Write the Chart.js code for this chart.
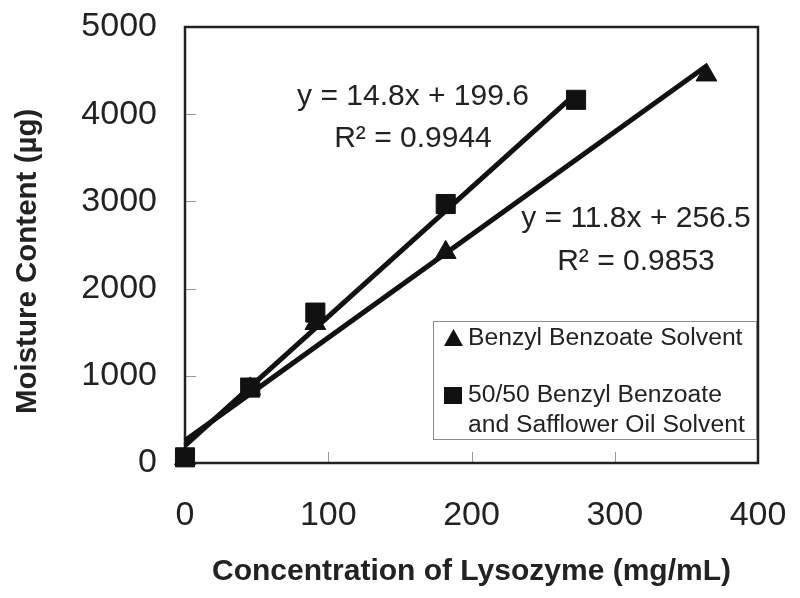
<!DOCTYPE html>
<html>
<head>
<meta charset="utf-8">
<script src="https://cdn.jsdelivr.net/npm/chart.js@4.4.1/dist/chart.umd.min.js"></script>
<style>
  html, body { margin: 0; padding: 0; background: #fff; }
  #wrap { width: 800px; height: 598px; position: relative; }
</style>
</head>
<body>
<div id="wrap"><canvas id="c" width="800" height="598"></canvas></div>
<script>
// ---- data ----
const seriesNames = ['Benzyl Benzoate Solvent', '50/50 Benzyl Benzoate', 'and Safflower Oil Solvent'];
const benzylX = [0, 45.5, 91, 182, 364];
const benzylY = [50, 850, 1600, 2415, 4450];
const blendX = [0, 45.5, 91, 182, 273];
const blendY = [65, 865, 1725, 2970, 4165];
// trendline end points (from the fitted equations shown on the chart)
const benzylTrendX = [0, 364];
const benzylTrendY = [256.5, 4551.7];
const blendTrendX = [0, 273];
const blendTrendY = [199.6, 4240];
const blendEq = ['y = 14.8x + 199.6', 'R\u00B2 = 0.9944'];
const benzylEq = ['y = 11.8x + 256.5', 'R\u00B2 = 0.9853'];
const xTicks = [0, 100, 200, 300, 400];
const yTicks = [0, 1000, 2000, 3000, 4000, 5000];
const xTitle = 'Concentration of Lysozyme (mg/mL)';
const yTitle = 'Moisture Content (\u00B5g)';

const FONT = "'Liberation Sans', Arial, Helvetica, sans-serif";
const INK = '#222';

const toPts = (xs, ys) => xs.map((x, i) => ({x: x, y: ys[i]}));

const decorPlugin = {
  id: 'decor',
  beforeDatasetsDraw(chart) {
    const ctx = chart.ctx, a = chart.chartArea;
    ctx.save();
    // inward tick marks
    ctx.strokeStyle = '#9a9a9a';
    ctx.lineWidth = 1;
    const xs = chart.scales.x, ys = chart.scales.y;
    xTicks.slice(1, -1).forEach(v => {
      const p = Math.round(xs.getPixelForValue(v)) + 0.5;
      ctx.beginPath(); ctx.moveTo(p, a.bottom); ctx.lineTo(p, a.bottom - 11); ctx.stroke();
    });
    yTicks.slice(1, -1).forEach(v => {
      const p = Math.round(ys.getPixelForValue(v)) + 0.5;
      ctx.beginPath(); ctx.moveTo(a.left, p); ctx.lineTo(a.left + 11, p); ctx.stroke();
    });
    // plot-area frame
    ctx.strokeStyle = INK;
    ctx.lineWidth = 2.5;
    ctx.strokeRect(a.left, a.top, a.right - a.left, a.bottom - a.top);
    ctx.restore();
  },
  afterDraw(chart) {
    const ctx = chart.ctx;
    ctx.save();
    // equations
    ctx.fillStyle = INK;
    ctx.font = '30px ' + FONT;
    ctx.textAlign = 'center';
    ctx.textBaseline = 'middle';
    ctx.fillText(blendEq[0], 413, 97);
    ctx.fillText(blendEq[1], 413, 139);
    ctx.fillText(benzylEq[0], 636, 219);
    ctx.fillText(benzylEq[1], 636, 262);
    // legend box
    ctx.fillStyle = '#fff';
    ctx.fillRect(433.5, 321.5, 323, 118);
    ctx.strokeStyle = '#8a8a8a';
    ctx.lineWidth = 1;
    ctx.strokeRect(433.5, 321.5, 323, 118);
    // legend markers
    ctx.fillStyle = '#111';
    ctx.beginPath();
    ctx.moveTo(453.5, 329); ctx.lineTo(463, 346); ctx.lineTo(444, 346); ctx.closePath(); ctx.fill();
    ctx.fillRect(444, 387, 18, 17);
    // legend text
    ctx.fillStyle = INK;
    ctx.font = '24.7px ' + FONT;
    ctx.textAlign = 'left';
    ctx.fillText(seriesNames[0], 468, 338);
    ctx.fillText(seriesNames[1], 468, 395);
    ctx.fillText(seriesNames[2], 468, 425);
    ctx.restore();
  }
};

new Chart(document.getElementById('c'), {
  type: 'scatter',
  data: {
    datasets: [
      { label: 'trend blend', type: 'line', data: toPts(blendTrendX, blendTrendY),
        borderColor: '#111', borderWidth: 5, pointRadius: 0, fill: false, clip: false, order: 3 },
      { label: 'trend benzyl', type: 'line', data: toPts(benzylTrendX, benzylTrendY),
        borderColor: '#111', borderWidth: 5, pointRadius: 0, fill: false, clip: false, order: 3 },
      { label: seriesNames[0], data: toPts(benzylX, benzylY), pointStyle: 'triangle',
        pointRadius: 12, backgroundColor: '#111', borderColor: '#111', borderWidth: 1, clip: false, order: 2 },
      { label: seriesNames[1] + ' ' + seriesNames[2], data: toPts(blendX, blendY), pointStyle: 'rect',
        pointRadius: 13.5, backgroundColor: '#111', borderColor: '#111', borderWidth: 1, clip: false, order: 1 }
    ]
  },
  options: {
    responsive: false,
    animation: false,
    events: [],
    layout: { padding: { top: 27, right: 42, left: 0, bottom: 0 } },
    plugins: { legend: { display: false }, tooltip: { enabled: false } },
    scales: {
      x: {
        type: 'linear', min: 0, max: 400,
        afterBuildTicks: s => { s.ticks = xTicks.map(v => ({value: v})); },
        afterFit: s => { s.height = 135; s.paddingLeft = 0; s.paddingRight = 0; },
        grid: { display: false, drawTicks: false },
        border: { display: false },
        ticks: { color: INK, font: { family: FONT, size: 34 }, padding: 32, maxRotation: 0,
                 callback: v => String(v) },
        title: { display: true, text: xTitle, color: INK,
                 font: { family: FONT, size: 30, weight: 'bold' }, padding: { top: 0, bottom: 8 } }
      },
      y: {
        type: 'linear', min: 0, max: 5000,
        afterBuildTicks: s => { s.ticks = yTicks.map(v => ({value: v})); },
        afterFit: s => { s.width = 185; s.paddingTop = 0; s.paddingBottom = 0; },
        grid: { display: false, drawTicks: false },
        border: { display: false },
        ticks: { color: INK, font: { family: FONT, size: 34 }, padding: 28,
                 callback: v => String(v) },
        title: { display: true, text: yTitle + '    ', color: INK,
                 font: { family: FONT, size: 29.5, weight: 'bold' }, padding: { top: 10, bottom: 0 } }
      }
    }
  },
  plugins: [decorPlugin]
});
</script>
</body>
</html>
